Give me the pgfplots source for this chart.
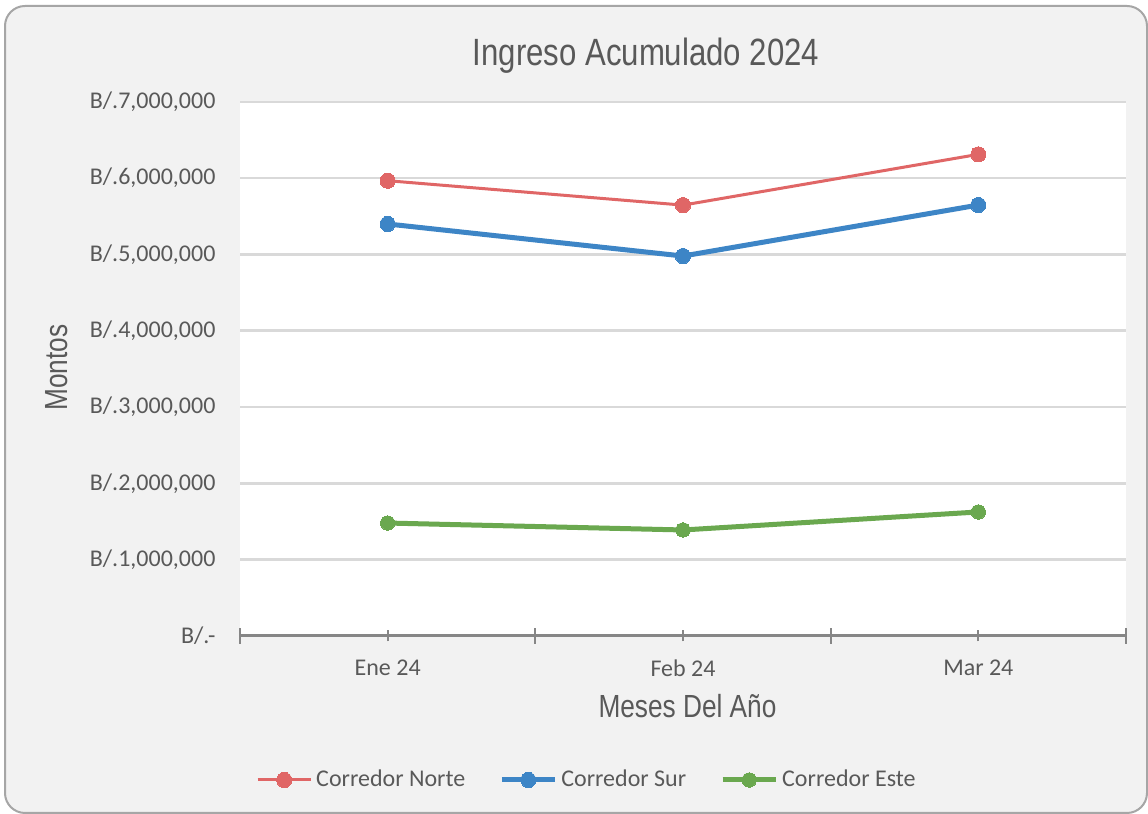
\documentclass[border=0pt]{standalone}
\usepackage{pgfplots}
\pgfplotsset{compat=1.18}
\usepackage{fontspec}
\setmainfont{Carlito}
\newfontfamily\narrow[FakeStretch=0.82]{Liberation Sans}
\definecolor{cred}{HTML}{E06666}
\definecolor{cblue}{HTML}{3D85C6}
\definecolor{cgreen}{HTML}{6AA84F}
\definecolor{txt}{HTML}{595959}
\definecolor{axc}{HTML}{868686}
\definecolor{gridc}{HTML}{D9D9D9}
\definecolor{bg}{HTML}{F2F2F2}
\definecolor{bordc}{HTML}{A6A6A6}
\begin{document}
\begin{tikzpicture}
\path[use as bounding box] (0,0) rectangle (574pt,407pt);
\fill[white] (0,0) rectangle (574pt,407pt);
\draw[bordc, line width=1pt, fill=bg, rounded corners=10pt] (2.5pt,0.5pt) rectangle (573.5pt,404pt);
\begin{axis}[
  at={(120pt,89pt)}, anchor=south west,
  scale only axis, width=443pt, height=267.15pt,
  xmin=-0.5, xmax=2.5, ymin=0, ymax=7000000,
  clip=false,
  axis x line=bottom, axis y line=left,
  x axis line style={-, axc, line width=1.5pt},
  y axis line style={draw=none},
  axis background/.style={fill=white},
  xtick={0,1,2}, xticklabels={Ene 24, Feb 24, Mar 24},
  extra x ticks={-0.5,0.5,1.5,2.5}, extra x tick labels={},
  extra x tick style={major tick length=8pt},
  major tick length=5.5pt, tick align=center,
  xtick style={axc, line width=1pt},
  ytick={0,1000000,2000000,3000000,4000000,5000000,6000000,7000000},
  yticklabels={{B/.-},{B/.1,000,000},{B/.2,000,000},{B/.3,000,000},{B/.4,000,000},{B/.5,000,000},{B/.6,000,000},{B/.7,000,000}},
  scaled y ticks=false,
  ytick style={draw=none},
  ymajorgrids, xmajorgrids=false,
  grid style={gridc, line width=1.2pt},
  tick label style={font=\fontsize{12}{14}\selectfont, text=txt},
  yticklabel style={xshift=-6pt},
  xticklabel style={yshift=-5.5pt},
  legend columns=3,
  legend cell align=left,
  legend style={at={(0.3927,-0.2695)}, anchor=center, draw=none, fill=none,
    font=\fontsize{12}{14}\selectfont, text=txt,
    /tikz/every even column/.append style={column sep=15pt}},
  legend image code/.code={\draw[mark repeat=2,mark phase=2,#1] plot coordinates {(0pt,0pt) (13.25pt,0pt) (26.5pt,0pt)};},
]
\addplot[cred, line width=1.5pt, mark=*, mark size=3.8pt, mark options={solid, fill=cred, draw=cred, line width=0pt}]
  coordinates {(0,5965000) (1,5645000) (2,6310000)};
\addlegendentry{Corredor Norte}
\addplot[cblue, line width=2.5pt, mark=*, mark size=3.8pt, mark options={solid, fill=cblue, draw=cblue, line width=0pt}]
  coordinates {(0,5398000) (1,4978000) (2,5646000)};
\addlegendentry{Corredor Sur}
\addplot[cgreen, line width=2.5pt, mark=*, mark size=3.6pt, mark options={solid, fill=cgreen, draw=cgreen, line width=0pt}]
  coordinates {(0,1480000) (1,1389000) (2,1625000)};
\addlegendentry{Corredor Este}
\end{axis}
\node[font=\narrow\fontsize{19}{22}\selectfont, text=txt, anchor=base] at (323pt,374pt) {Ingreso Acumulado 2024};
\node[font=\narrow\fontsize{16}{19}\selectfont, text=txt, anchor=base] at (343.75pt,48pt) {Meses Del Año};
\node[font=\narrow\fontsize{16}{19}\selectfont, text=txt, anchor=base, rotate=90] at (34pt,223.25pt) {Montos};
\end{tikzpicture}
\end{document}
